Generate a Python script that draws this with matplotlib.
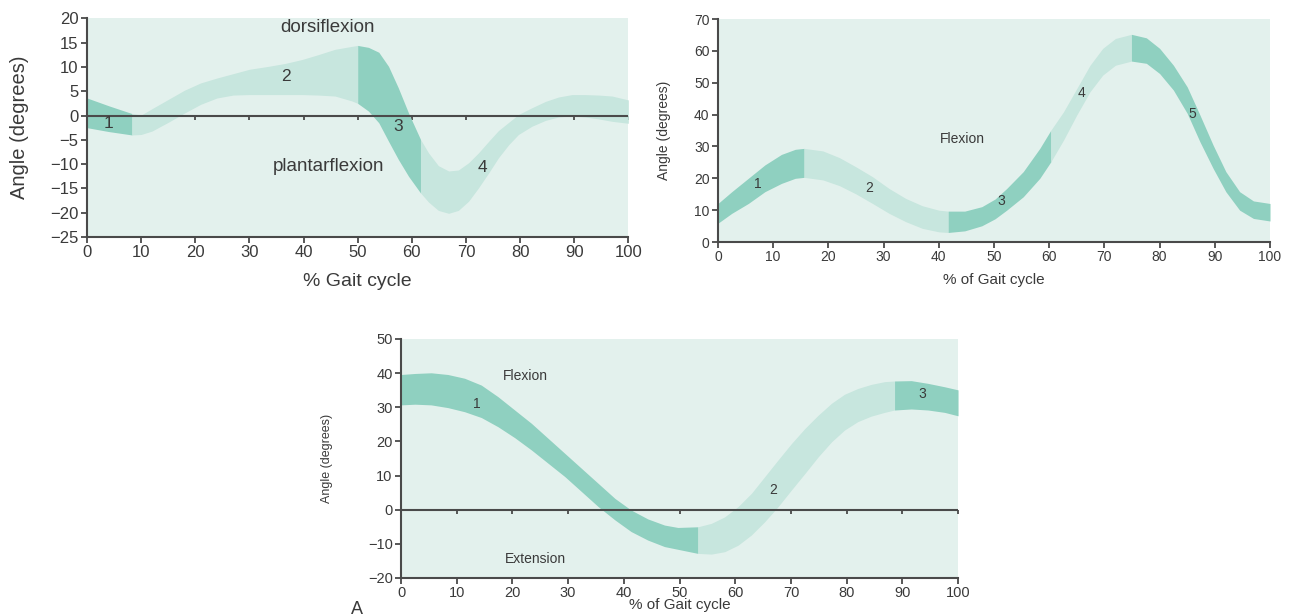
import matplotlib
matplotlib.use("Agg")
import matplotlib.pyplot as plt
import numpy as np

plt.rcParams['font.family'] = ['Liberation Sans', 'DejaVu Sans']

# ankle
x_ankle = [0, 4, 8.3, 10, 12, 15, 18, 21, 24, 27, 30, 33.5, 36.6, 39.7, 42.7, 45.8, 48.9, 50,
           52, 53.9, 55.7, 57.5, 59.4, 61.6, 63.1, 64.9, 66.8, 68.6, 70.5, 72.3, 74.2, 76, 77.9,
           79.7, 82.2, 84.7, 87.1, 89.6, 92, 94.5, 97, 100]
up_ankle = [3.6, 2.0, 0.4, 0.1, 1.4, 3.3, 5.2, 6.7, 7.7, 8.6, 9.5, 10.1, 10.7, 11.5, 12.5, 13.6, 14.2, 14.4,
            14.0, 13.0, 10.1, 5.7, 0.5, -4.9, -7.7, -10.3, -11.4, -11.2, -9.7, -7.7, -5.3, -3.1, -1.4,
            0.2, 1.6, 2.9, 3.8, 4.3, 4.3, 4.2, 4.0, 3.2]
lo_ankle = [-2.5, -3.3, -4.0, -3.9, -3.2, -1.4, 0.5, 2.3, 3.6, 4.2, 4.3, 4.3, 4.3, 4.3, 4.2, 4.0, 3.0, 2.5,
            0.9, -1.5, -5.3, -9.0, -12.5, -15.9, -17.8, -19.5, -20.1, -19.5, -17.6, -14.9, -11.8, -8.7, -6.0,
            -3.9, -2.2, -1.0, -0.3, -0.1, -0.3, -0.7, -1.2, -1.6]
seg_ankle = [(0, 8.3), (8.3, 50), (50, 61.6), (61.6, 100)]
shade_ankle = ['d', 'l', 'd', 'l']
lab_ankle = ['1', '2', '3', '4']
labpos_ankle = [(3.9, -1.6), (36.8, 8.1), (57.5, -2.2), (73, -10.6)]

# knee
x_knee = [0, 2.5, 5.5, 8.5, 11.5, 14, 15.6, 19, 22, 25, 28, 31, 34, 37, 40, 41.7, 44.7, 47.8, 50.2,
          52.3, 55.3, 58.3, 60.3, 62.6, 65, 67.4, 69.7, 72, 74.9, 77.6, 80, 82.5, 85, 87.3, 89.7,
          92, 94.5, 97, 100]
up_knee = [12.1, 15.8, 20, 24.2, 27.5, 29.1, 29.4, 28.6, 26.5, 23.6, 20.5, 16.8, 13.7, 11.4, 10.0, 9.7,
           9.7, 11.1, 13.5, 16.8, 22.1, 29.4, 35.1, 40.9, 48.2, 55.5, 60.8, 63.9, 65.2, 64.1, 60.8,
           55.5, 48.7, 39.9, 30.4, 22.1, 15.8, 12.9, 12.1]
lo_knee = [5.9, 9, 12.1, 15.8, 18.4, 20, 20.3, 19.5, 17.7, 15.1, 12.1, 9.0, 6.4, 4.3, 3.2, 3.0, 3.5,
           5.1, 7.3, 10, 14.2, 20, 25.2, 32, 39.9, 47.2, 52.4, 55.5, 56.8, 56.1, 52.9, 47.7, 40.4,
           31.5, 23.1, 15.8, 10, 7.4, 6.6]
seg_knee = [(0, 15.6), (15.6, 41.7), (41.7, 60.3), (60.3, 74.9), (74.9, 100)]
shade_knee = ['d', 'l', 'd', 'l', 'd']
lab_knee = ['1', '2', '3', '4', '5']
labpos_knee = [(7.2, 18.2), (27.4, 17), (51.3, 12.9), (65.8, 46.8), (85.9, 40.2)]

# hip
x_hip = [0, 2.5, 5.4, 8.4, 11.4, 14.4, 17.4, 20.4, 23.4, 26.4, 29.4, 32.4, 35.4, 38.4, 41.3, 44.3,
         47.3, 49.7, 53.3, 55.7, 58.1, 60.5, 62.9, 65.3, 67.7, 70.1, 72.5, 74.9, 77.3, 79.6, 82,
         84.4, 86.8, 88.6, 91.6, 94.6, 97.6, 100]
up_hip = [39.6, 39.9, 40.1, 39.6, 38.5, 36.5, 33.1, 29.2, 25.3, 20.9, 16.5, 12.1, 7.7, 3.3, -0.1, -2.7,
          -4.5, -5.2, -5.0, -4.0, -2.1, 0.9, 4.8, 9.7, 14.6, 19.4, 23.8, 27.7, 31.2, 33.8, 35.5,
          36.7, 37.5, 37.7, 37.8, 37.0, 36.0, 35.1]
lo_hip = [30.7, 30.9, 30.7, 29.9, 28.7, 27.0, 24.3, 21.1, 17.5, 13.6, 9.7, 5.3, 0.9, -3.0, -6.4, -8.9,
          -10.8, -11.6, -12.8, -13.0, -12.3, -10.4, -7.4, -3.5, 0.9, 5.8, 10.6, 15.5, 19.9, 23.3, 25.8,
          27.4, 28.5, 29.2, 29.5, 29.2, 28.5, 27.5]
seg_hip = [(0, 53.3), (53.3, 88.6), (88.6, 100)]
shade_hip = ['d', 'l', 'd']
lab_hip = ['1', '2', '3']
labpos_hip = [(13.6, 30.9), (66.8, 5.8), (93.5, 33.8)]

bg = '#e3f1ed'
dark = '#8fd0c0'
light = '#c7e6de'
txt = '#3a3a3a'
spine = '#4a4a4a'


def band(ax, x, up, lo, segs, shades):
    x = np.array(x)
    up = np.array(up)
    lo = np.array(lo)
    for (a, b), s in zip(segs, shades):
        m = (x >= a) & (x <= b)
        ax.fill_between(x[m], lo[m], up[m], color=dark if s == 'd' else light, lw=0)


def style(ax, ylim, yticks, fs):
    ax.set_facecolor(bg)
    ax.set_xlim(0, 100)
    ax.set_ylim(*ylim)
    ax.set_xticks(range(0, 101, 10))
    ax.set_yticks(yticks)
    ax.set_yticklabels([str(t).replace('-', '\u2212') for t in yticks])
    for s in ['top', 'right']:
        ax.spines[s].set_visible(False)
    for s in ['left', 'bottom']:
        ax.spines[s].set_color(spine)
        ax.spines[s].set_linewidth(1.5)
    ax.tick_params(direction='out', length=4, width=1.3, color=spine,
                   labelsize=fs, labelcolor=txt, pad=2)


def zero_line(ax):
    ax.axhline(0, color=spine, lw=1.5, zorder=3)
    sec = ax.secondary_xaxis(0, transform=ax.transData)
    sec.set_xticks(range(10, 101, 10))
    sec.tick_params(direction='out', length=3, width=1.3, color=spine, labelbottom=False)
    sec.spines['bottom'].set_visible(False)


fig = plt.figure(figsize=(12.95, 6.16), dpi=100)

# ankle
ax1 = fig.add_axes([0.0672, 0.615, 0.418, 0.3555])
style(ax1, (-25, 20), list(range(-25, 21, 5)), 12)
band(ax1, x_ankle, up_ankle, lo_ankle, seg_ankle, shade_ankle)
zero_line(ax1)
for t, (px, py) in zip(lab_ankle, labpos_ankle):
    ax1.text(px, py, t, fontsize=12.5, color=txt, ha='center', va='center', zorder=4)
ax1.text(44.4, 18.1, 'dorsiflexion', fontsize=13.5, color=txt, ha='center', va='center')
ax1.text(44.7, -10.4, 'plantarflexion', fontsize=13.5, color=txt, ha='center', va='center')
ax1.set_ylabel('Angle (degrees)', fontsize=14.5, color=txt)
ax1.yaxis.set_label_coords(-0.108, 0.5)
ax1.set_xlabel('% Gait cycle', fontsize=14, color=txt)
ax1.xaxis.set_label_coords(0.5, -0.165)

# knee
ax2 = fig.add_axes([0.5544, 0.6071, 0.4263, 0.362])
style(ax2, (0, 70), list(range(0, 71, 10)), 10)
band(ax2, x_knee, up_knee, lo_knee, seg_knee, shade_knee)
for t, (px, py) in zip(lab_knee, labpos_knee):
    ax2.text(px, py, t, fontsize=10, color=txt, ha='center', va='center')
ax2.text(44.2, 32.3, 'Flexion', fontsize=10, color=txt, ha='center', va='center')
ax2.set_ylabel('Angle (degrees)', fontsize=10, color=txt)
ax2.yaxis.set_label_coords(-0.085, 0.5)
ax2.set_xlabel('% of Gait cycle', fontsize=11, color=txt)
ax2.xaxis.set_label_coords(0.5, -0.14)

# hip
ax3 = fig.add_axes([0.3097, 0.0617, 0.4301, 0.388])
style(ax3, (-20, 50), list(range(-20, 51, 10)), 10.5)
band(ax3, x_hip, up_hip, lo_hip, seg_hip, shade_hip)
zero_line(ax3)
for t, (px, py) in zip(lab_hip, labpos_hip):
    ax3.text(px, py, t, fontsize=10, color=txt, ha='center', va='center')
ax3.text(22.3, 39.2, 'Flexion', fontsize=10, color=txt, ha='center', va='center')
ax3.text(24.1, -14.5, 'Extension', fontsize=10, color=txt, ha='center', va='center')
ax3.set_ylabel('Angle (degrees)', fontsize=9, color=txt)
ax3.yaxis.set_label_coords(-0.122, 0.5)
ax3.set_xlabel('% of Gait cycle', fontsize=11, color=txt)
ax3.xaxis.set_label_coords(0.5, -0.085)

fig.text(357 / 1295, 1 - 609 / 616, 'A', fontsize=13, color=txt, ha='center', va='center')

fig.savefig('out.png', dpi=100, facecolor='white')
